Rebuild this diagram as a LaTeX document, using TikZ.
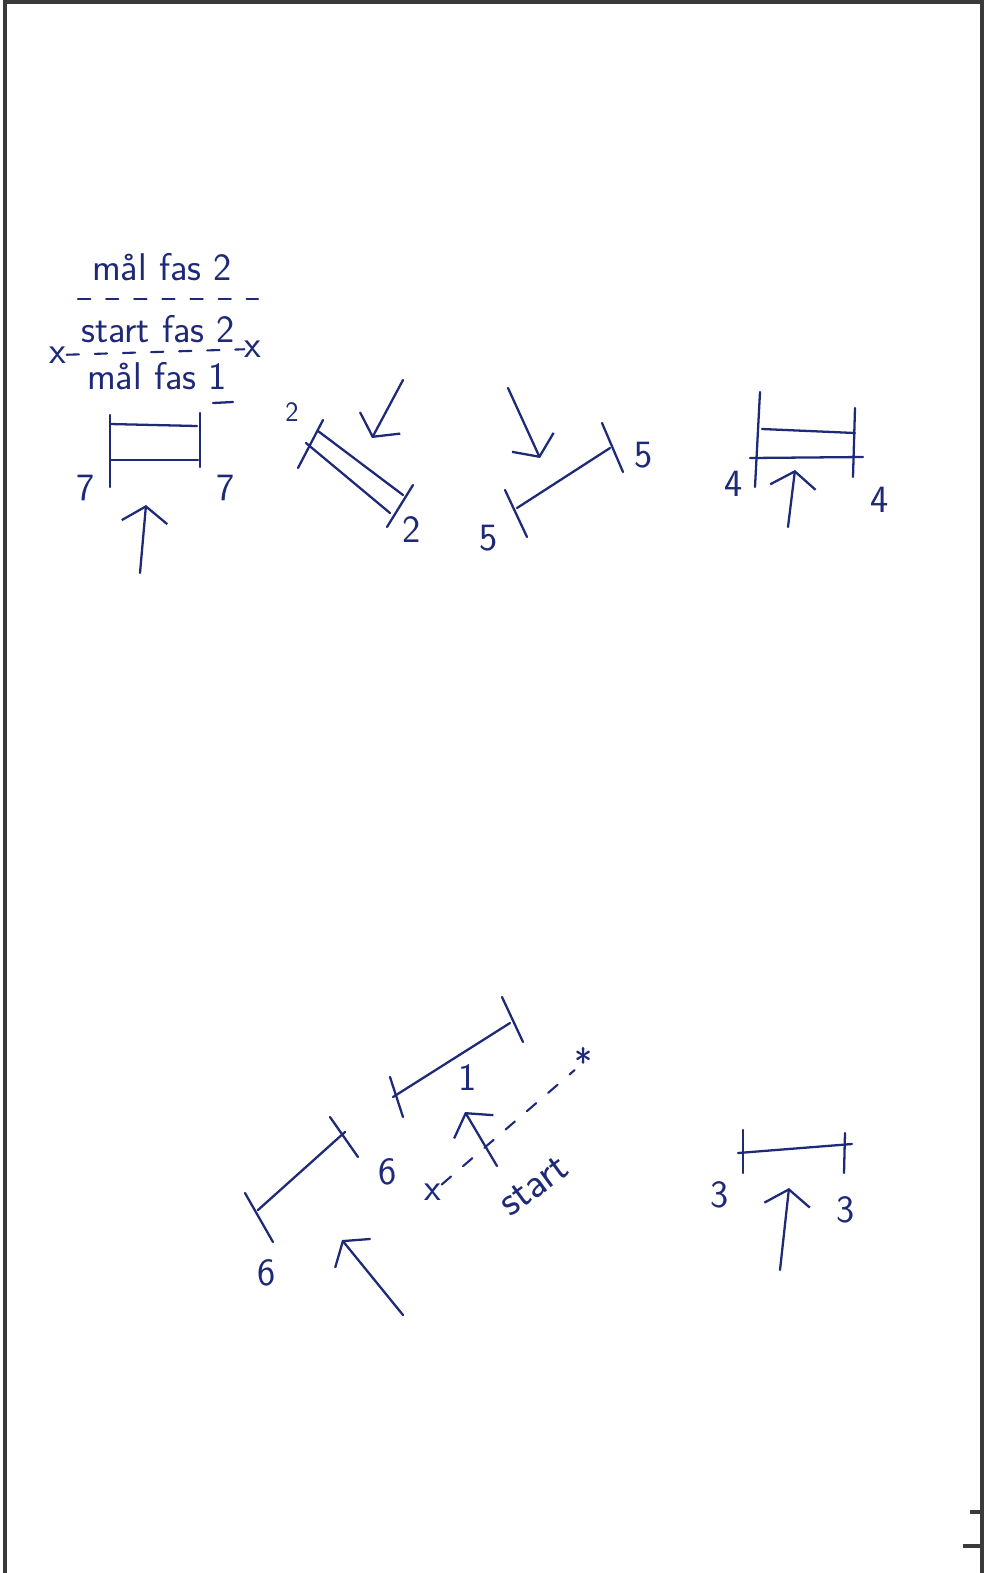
\documentclass[tikz,border=0pt]{standalone}
\usepackage{fontspec}
\usepackage{tikz}
\usetikzlibrary{arrows.meta,positioning,calc}
\definecolor{pen}{HTML}{1E2A78}
\definecolor{paperedge}{HTML}{3A3A3A}
\tikzset{
  gateline/.style={draw=pen, line width=1.3pt, line cap=round},
  gatepost/.style={draw=pen, line width=1.3pt, line cap=round},
  runarrow/.style={draw=pen, line width=1.3pt, line cap=round,
    -{Straight Barb[length=9pt,width=26pt,line width=1.3pt]}},
  gatenum/.style={text=pen, inner sep=0pt, font=\sffamily\fontsize{22}{24}\selectfont},
  smallnum/.style={gatenum, font=\sffamily\fontsize{16}{18}\selectfont},
  notetext/.style={text=pen, inner sep=0pt, font=\sffamily\fontsize{22}{24}\selectfont},
  trail/.style={draw=pen, line width=1.2pt, line cap=round, dash pattern=on 7pt off 9pt},
  papercut/.style={draw=paperedge, line width=1.8pt}
}

\begin{document}
\begin{tikzpicture}[x=0.02cm,y=-0.02cm]
  \useasboundingbox (0,0) rectangle (986,1573);
  \draw[papercut] (5,1573) -- (5,2) -- (982,2) -- (982,1573);
  \draw[papercut] (970,1512) -- (982,1512);
  \draw[papercut] (963,1546) -- (982,1546);

  \node[notetext] (goal2) at (162,267) {mål fas 2};
  \draw[trail] (78,299) -- (258,299);
  \node[notetext] (start2) at (158,329) {start fas 2};
  \node[notetext] (sx1) at (58,355) {x};
  \node[notetext] (sx2) at (253,349) {x};
  \draw[trail] (sx1) -- (sx2);
  \node[notetext] (goal1) at (157,376) {mål fas 1};
  \draw[gateline] (213,403) -- (233,402);

  \draw[gatepost] (110,415) -- (110,487);
  \draw[gatepost] (200,413) -- (200,467);
  \draw[gateline] (110,424) -- (197,426);
  \draw[gateline] (110,460) -- (198,460);
  \node[gatenum] (g7l) at (86,488) {7};
  \node[gatenum] (g7r) at (226,488) {7};
  \coordinate (a7s) at (140,573);
  \coordinate (a7e) at (146,505);
  \draw[runarrow] (a7s) -- (a7e);

  \draw[gatepost] (298,468) -- (323,420);
  \draw[gatepost] (387,527) -- (413,485);
  \draw[gateline] (318,431) -- (403,495);
  \draw[gateline] (306,443) -- (390,513);
  \node[smallnum] (g2l) at (292,412) {2};
  \node[gatenum] (g2r) at (412,530) {2};
  \coordinate (a2s) at (403,380);
  \coordinate (a2e) at (372,438);
  \draw[runarrow] (a2s) -- (a2e);

  \draw[gatepost] (505,490) -- (527,537);
  \draw[gatepost] (602,423) -- (623,472);
  \draw[gateline] (517,508) -- (610,448);
  \node[gatenum] (g5l) at (489,538) {5};
  \node[gatenum] (g5r) at (644,455) {5};
  \coordinate (a5s) at (508,388);
  \coordinate (a5e) at (540,458);
  \draw[runarrow] (a5s) -- (a5e);

  \draw[gatepost] (760,392) -- (755,487);
  \draw[gatepost] (855,408) -- (853,477);
  \draw[gateline] (762,429) -- (855,433);
  \draw[gateline] (750,458) -- (863,457);
  \node[gatenum] (g4l) at (734,484) {4};
  \node[gatenum] (g4r) at (880,500) {4};
  \coordinate (a4s) at (788,527);
  \coordinate (a4e) at (795,470);
  \draw[runarrow] (a4s) -- (a4e);

  \draw[gatepost] (390,1077) -- (403,1117);
  \draw[gatepost] (502,997) -- (523,1042);
  \draw[gateline] (393,1097) -- (510,1023);
  \node[gatenum] (g1) at (468,1077) {1};

  \draw[gatepost] (245,1193) -- (273,1242);
  \draw[gatepost] (330,1117) -- (358,1157);
  \draw[gateline] (258,1210) -- (345,1132);
  \node[gatenum] (g6l) at (267,1273) {6};
  \node[gatenum] (g6r) at (388,1172) {6};
  \coordinate (a6s) at (403,1315);
  \coordinate (a6e) at (342,1240);
  \draw[runarrow] (a6s) -- (a6e);

  \node[notetext] (startx) at (433,1192) {x};
  \node[notetext] (star) at (584,1062) {*};
  \draw[trail] (startx) -- (star);
  \node[notetext, rotate=36, font=\sffamily\fontsize{24}{26}\selectfont] (startlbl) at (534,1186) {start};
  \coordinate (ass) at (497,1166);
  \coordinate (ase) at (465,1112);
  \draw[runarrow] (ass) -- (ase);

  \draw[gatepost] (743,1130) -- (743,1173);
  \draw[gatepost] (845,1133) -- (844,1173);
  \draw[gateline] (738,1153) -- (852,1144);
  \node[gatenum] (g3l) at (720,1195) {3};
  \node[gatenum] (g3r) at (846,1210) {3};
  \coordinate (a3s) at (780,1270);
  \coordinate (a3e) at (789,1188);
  \draw[runarrow] (a3s) -- (a3e);
\end{tikzpicture}
\end{document}
